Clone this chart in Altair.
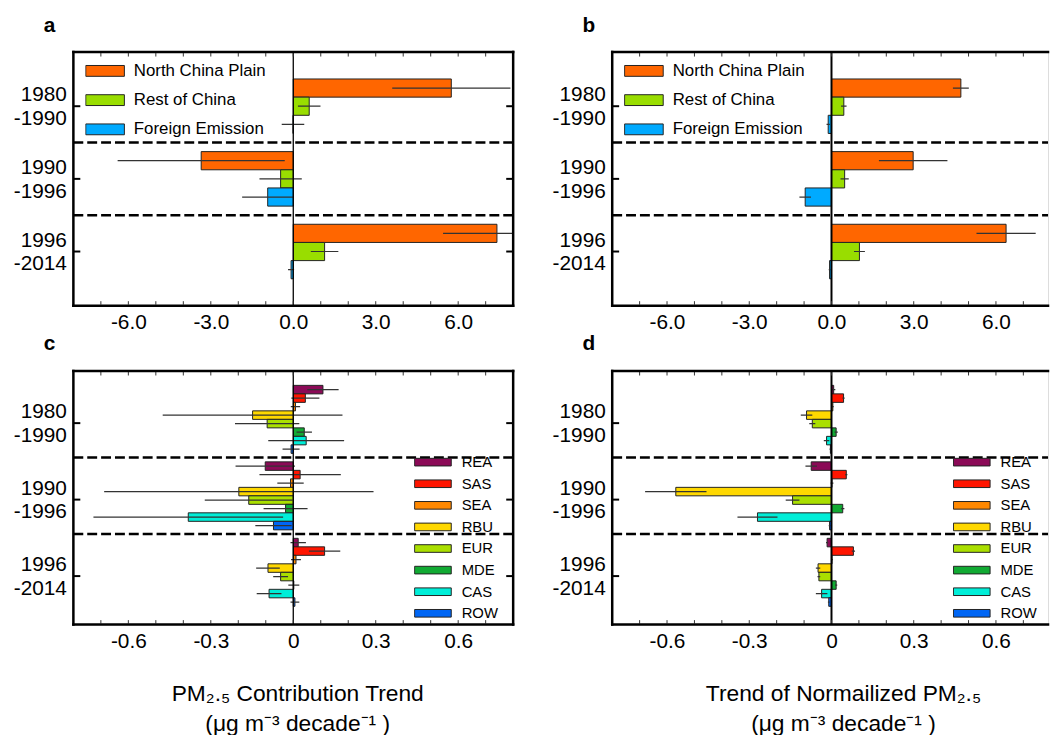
import altair as alt
import pandas as pd

FONT = "Liberation Sans"

periods = ["1980-1990", "1990-1996", "1996-2014"]

# ---- panels a / b ----
sources_top = ["North China Plain", "Rest of China", "Foreign Emission"]
colors_top = ["#FF6600", "#99DD00", "#00AAFF"]

a_values = [5.75, 0.58, -0.01,
            -3.35, -0.46, -0.93,
            7.41, 1.14, -0.08]
a_errors = [2.15, 0.41, 0.41,
            3.04, 0.77, 0.93,
            1.96, 0.50, 0.11]

b_values = [4.72, 0.45, -0.12,
            2.98, 0.48, -0.96,
            6.37, 1.02, -0.07]
b_errors = [0.29, 0.10, 0.06,
            1.25, 0.15, 0.21,
            1.08, 0.20, 0.03]

# ---- panels c / d ----
sources_bottom = ["REA", "SAS", "SEA", "RBU", "EUR", "MDE", "CAS", "ROW"]
colors_bottom = ["#8B0A57", "#FF1500", "#FF8800", "#FFD800",
                 "#AADF00", "#11AA33", "#00EED8", "#0066F5"]

c_values = [0.108, 0.044, 0.008, -0.148, -0.095, 0.040, 0.047, -0.008,
            -0.102, 0.025, -0.010, -0.198, -0.162, -0.028, -0.382, -0.072,
            0.018, 0.114, 0.010, -0.092, -0.046, 0.002, -0.088, 0.006]
c_errors = [0.057, 0.051, 0.017, 0.327, 0.117, 0.028, 0.138, 0.031,
            0.108, 0.148, 0.048, 0.490, 0.160, 0.080, 0.345, 0.066,
            0.028, 0.057, 0.018, 0.043, 0.027, 0.020, 0.045, 0.016]

d_values = [0.008, 0.044, 0.005, -0.091, -0.070, 0.017, -0.018, -0.004,
            -0.074, 0.054, 0.002, -0.568, -0.142, 0.041, -0.270, -0.007,
            -0.016, 0.080, 0.002, -0.049, -0.046, 0.017, -0.036, -0.010]
d_errors = [0.006, 0.004, 0.003, 0.021, 0.011, 0.006, 0.010, 0.003,
            0.021, 0.004, 0.005, 0.112, 0.025, 0.006, 0.073, 0.003,
            0.004, 0.006, 0.003, 0.008, 0.005, 0.004, 0.021, 0.003]

x_major_top = [-6.0, -3.0, 0.0, 3.0, 6.0]
x_minor_top = [-7, -6, -5, -4, -3, -2, -1, 0, 1, 2, 3, 4, 5, 6, 7]
x_major_bottom = [-0.6, -0.3, 0.0, 0.3, 0.6]
x_minor_bottom = [-0.7, -0.6, -0.5, -0.4, -0.3, -0.2, -0.1, 0.0,
                  0.1, 0.2, 0.3, 0.4, 0.5, 0.6, 0.7]

title_c = ["PM\u2082.\u2085 Contribution Trend", "(\u03bcg m\u207b\u00b3 decade\u207b\u00b9 )"]
title_d = ["Trend of Normailized PM\u2082.\u2085", "(\u03bcg m\u207b\u00b3 decade\u207b\u00b9 )"]

H = 256
W_LEFT = 444
W_RIGHT = 440


def row_domain(sources):
    """Band-scale domain: one slot per (period, source), a spacer slot between
    periods and one empty slot at each end."""
    dom = ["top"]
    for i, p in enumerate(periods):
        if i > 0:
            dom.append("gap%d" % i)
        for s in sources:
            dom.append(p + "|" + s)
    dom.append("bottom")
    return dom


def make_df(values, errors, sources):
    rows = []
    n = len(sources)
    for i, p in enumerate(periods):
        for j, s in enumerate(sources):
            v = values[i * n + j]
            e = errors[i * n + j]
            rows.append({"key": p + "|" + s, "period": p, "source": s,
                         "value": v, "lo": v - e, "hi": v + e})
    return pd.DataFrame(rows)


LABEL_TOP = "(datum.value < 0 ? '-' : '') + format(abs(datum.value), '.1f')"
LABEL_BOTTOM = ("datum.value == 0 ? '0' : (datum.value < 0 ? '-' : '') + "
                "format(abs(datum.value), '.1f')")


def panel(letter, df, sources, colors, xdom, major, minor, label_expr, width,
          band, label_source, legend, right_border, zero_w, shift,
          xtitle=None, title_x=None):
    po, al = band
    dom = row_domain(sources)
    step = H / (len(dom) + 2 * po)
    # centre of the group (between slots when the group has an even count)
    centre_off = step / 2.0 if len(sources) % 2 == 0 else 0.0
    tick_off = centre_off + shift
    label_keys = [p + "|" + label_source for p in periods]

    yscale = alt.Scale(domain=dom, paddingInner=0, paddingOuter=po, align=al)
    yaxis = alt.Axis(domain=False, ticks=False, labelOverlap=False, values=label_keys,
                     labelExpr="[slice(datum.value, 0, 4), slice(datum.value, 4, 9)]",
                     labelFontSize=21, labelLineHeight=24, labelPadding=7,
                     labelOffset=tick_off - 11, labelBaseline="middle", labelAlign="right",
                     labelColor="black", labelFont=FONT)

    def Y(field="key:N"):
        return alt.Y(field, scale=yscale, axis=yaxis, title=None)

    xscale = alt.Scale(domain=xdom, nice=False, zero=False)
    xkw = dict(values=major, labelExpr=label_expr, domain=False, ticks=False,
               tickSize=0, grid=False, labelFontSize=21, labelPadding=6.5,
               labelColor="black", labelFont=FONT, labelFlush=False,
               labelOverlap=False)
    if xtitle:
        xkw.update(titleFontSize=23, titleFontWeight="normal", titleColor="black",
                   titleFont=FONT, titleLineHeight=30, titleBaseline="alphabetic",
                   titleY=77, titleX=title_x, titleAlign="center")
    xaxis = alt.Axis(**xkw)

    def X(field, **kw):
        if xtitle:
            return alt.X(field, scale=xscale, axis=xaxis, title=xtitle, **kw)
        return alt.X(field, scale=xscale, axis=xaxis, title=None, **kw)

    one = pd.DataFrame({"k": [0]})
    label_rows = pd.DataFrame({"key": label_keys})
    gap_rows = pd.DataFrame({"key": [k for k in dom if k.startswith("gap")]})

    bars = alt.Chart(df).mark_bar(stroke="#222222", strokeWidth=1).encode(
        x=X("value:Q", stack=None),
        y=Y(),
        color=alt.Color("source:N", scale=alt.Scale(domain=sources, range=colors),
                        legend=legend),
    )
    errs = alt.Chart(df).mark_rule(color="#333333", strokeWidth=1.2, clip=True).encode(
        x=X("lo:Q"),
        x2="hi:Q",
        y=Y(),
    )
    zero = alt.Chart(one).mark_rule(color="black", strokeWidth=zero_w).encode(
        x=alt.datum(0), y=alt.value(0), y2=alt.value(H)
    )
    dashes = alt.Chart(gap_rows).mark_rule(
        color="black", strokeWidth=2.5, strokeDash=[10, 4]
    ).encode(y=Y(), x=alt.value(0), x2=alt.value(width))
    tdf = pd.DataFrame({"t": minor})
    minor_top = alt.Chart(tdf).mark_rule(color="#333333", strokeWidth=1).encode(
        x=X("t:Q"), y=alt.value(1), y2=alt.value(4.5)
    )
    minor_bot = alt.Chart(tdf).mark_rule(color="#333333", strokeWidth=1).encode(
        x=X("t:Q"), y=alt.value(H - 4.5), y2=alt.value(H - 1)
    )
    gtick_l = alt.Chart(label_rows).mark_rule(
        color="black", strokeWidth=2, yOffset=tick_off
    ).encode(y=Y(), x=alt.value(0), x2=alt.value(7))
    layers = [bars, errs, zero, dashes, minor_top, minor_bot, gtick_l]
    if right_border:
        gtick_r = alt.Chart(label_rows).mark_rule(
            color="black", strokeWidth=2, yOffset=tick_off
        ).encode(y=Y(), x=alt.value(width - 7), x2=alt.value(width))
        layers.append(gtick_r)
    bstyle = dict(color="black", strokeWidth=2.5, strokeCap="square")
    layers.append(alt.Chart(one).mark_rule(**bstyle).encode(
        x=alt.value(0), x2=alt.value(width), y=alt.value(0)))
    layers.append(alt.Chart(one).mark_rule(**bstyle).encode(
        x=alt.value(0), x2=alt.value(width), y=alt.value(H)))
    layers.append(alt.Chart(one).mark_rule(**bstyle).encode(
        x=alt.value(0), y=alt.value(0), y2=alt.value(H)))
    if right_border:
        layers.append(alt.Chart(one).mark_rule(**bstyle).encode(
            x=alt.value(width), y=alt.value(0), y2=alt.value(H)))

    return alt.layer(*layers).properties(
        width=width, height=H,
        title=alt.TitleParams(letter, anchor="start", frame="group", dx=-30, offset=15,
                              fontSize=21, fontWeight="bold", font=FONT, color="black"),
    )


legend_top = alt.Legend(orient="none", legendX=12, legendY=10.5, title=None,
                        direction="vertical", clipHeight=17,
                        symbolType="M-1,-0.28H1V0.28H-1Z", symbolSize=1521,
                        symbolStrokeColor="#222222", symbolStrokeWidth=1,
                        symbolOpacity=1, labelFontSize=17, labelFont=FONT,
                        labelColor="black", labelOffset=9, rowPadding=11.5, padding=0)
legend_bottom = alt.Legend(orient="none", legendX=344, legendY=84.5, title=None,
                           direction="vertical", clipHeight=15,
                           symbolType="M-1,-0.208H1V0.208H-1Z", symbolSize=1369,
                           symbolStrokeColor="#222222", symbolStrokeWidth=1,
                           symbolOpacity=1, labelFontSize=15, labelFont=FONT,
                           labelColor="black", labelOffset=10, rowPadding=5.8, padding=0)

# (outer padding beyond the empty end slot, alignment)
band_top = (0.48, 0.5)
band_bottom = (0.92, 0.374)

pa = panel("a", make_df(a_values, a_errors, sources_top), sources_top, colors_top,
           [-8, 8], x_major_top, x_minor_top, LABEL_TOP, W_LEFT, band_top,
           "Rest of China", legend_top, True, 1.3, 0)
pb = panel("b", make_df(b_values, b_errors, sources_top), sources_top, colors_top,
           [-8, 7.9], x_major_top, x_minor_top, LABEL_TOP, W_RIGHT, band_top,
           "Rest of China", legend_top, False, 2, 0)
pc = panel("c", make_df(c_values, c_errors, sources_bottom), sources_bottom, colors_bottom,
           [-0.8, 0.8], x_major_bottom, x_minor_bottom, LABEL_BOTTOM, W_LEFT, band_bottom,
           "RBU", legend_bottom, True, 1.3, 3.8, title_c, 226)
pd_ = panel("d", make_df(d_values, d_errors, sources_bottom), sources_bottom, colors_bottom,
            [-0.8, 0.79], x_major_bottom, x_minor_bottom, LABEL_BOTTOM, W_RIGHT, band_bottom,
            "RBU", legend_bottom, False, 2, 3.8, title_d, 233)

chart = alt.concat(
    pa, pb, pc, pd_, columns=2, spacing={"row": 66, "column": 100}, bounds="flush"
).resolve_scale(color="independent").properties(
    padding={"left": 4, "top": 2, "right": 0, "bottom": 0}
).configure_view(strokeWidth=0).configure(font=FONT)

chart.save("out.html", embed_options={"renderer": "svg", "actions": False})
